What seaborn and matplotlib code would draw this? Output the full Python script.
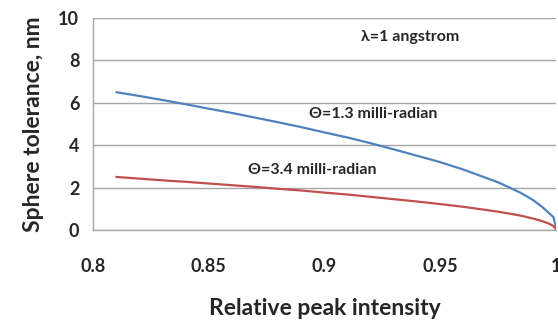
import pandas as pd
import seaborn as sns
import matplotlib.pyplot as plt

# relative peak intensity (x) and sphere tolerance in nm (y)
intensity = [0.81, 0.82, 0.83, 0.84, 0.85, 0.86, 0.87, 0.88, 0.89, 0.90, 0.91, 0.92, 0.93, 0.94,
             0.95, 0.96, 0.97, 0.975, 0.98, 0.985, 0.99, 0.994, 0.997, 0.999, 1.0]
tol_13 = [6.5, 6.32, 6.13, 5.93, 5.72, 5.52, 5.3, 5.08, 4.85, 4.6, 4.36, 4.09, 3.8, 3.5,
          3.2, 2.85, 2.45, 2.25, 2.0, 1.74, 1.42, 1.1, 0.8, 0.6, 0.15]
tol_34 = [2.5, 2.42, 2.34, 2.27, 2.19, 2.11, 2.03, 1.94, 1.86, 1.76, 1.67, 1.56, 1.45, 1.34,
          1.22, 1.09, 0.94, 0.86, 0.77, 0.67, 0.54, 0.42, 0.3, 0.18, 0.05]

x_ticks = [0.8, 0.85, 0.9, 0.95, 1.0]
x_labels = ["0.8", "0.85", "0.9", "0.95", "1"]
y_ticks = [0, 2, 4, 6, 8, 10]

df = pd.concat([
    pd.DataFrame({"x": intensity, "y": tol_13, "series": "1.3"}),
    pd.DataFrame({"x": intensity, "y": tol_34, "series": "3.4"}),
])

sns.set_style("white")
plt.rcParams["font.family"] = ["Lato", "DejaVu Sans"]

fig = plt.figure(figsize=(5.58, 3.22), dpi=100)
ax = fig.add_axes([0.167, 0.286, 0.829, 0.658])

sns.lineplot(data=df, x="x", y="y", hue="series", palette={"1.3": "#4F81BD", "3.4": "#C0504D"},
             estimator=None, sort=False, linewidth=1.6, legend=False, ax=ax)

ax.set_xlim(0.8, 1.0)
ax.set_ylim(0, 10)
ax.set_xticks(x_ticks)
ax.set_xticklabels(x_labels)
ax.set_yticks(y_ticks)
ax.yaxis.grid(True, color="#A6A6A6", linewidth=1)
ax.xaxis.grid(False)
for s in ["top", "right"]:
    ax.spines[s].set_visible(False)
for s in ["left", "bottom"]:
    ax.spines[s].set_color("#A6A6A6")
    ax.spines[s].set_linewidth(1)
ax.tick_params(axis="both", direction="out", length=5, color="#A6A6A6", width=1,
               labelsize=13, pad=5)
ax.tick_params(axis="x", pad=15)
for lab in ax.get_xticklabels() + ax.get_yticklabels():
    lab.set_fontweight("bold")

ax.set_xlabel("Relative peak intensity", fontsize=16.5, fontweight="bold", labelpad=17)
ax.set_ylabel("Sphere tolerance, nm", fontsize=16.5, fontweight="bold", labelpad=10)

ax.text(0.937, 9.1, "λ=1 angstrom", fontsize=11.5, fontweight="bold", ha="center", va="center")
ax.text(0.921, 5.45, "Θ=1.3 milli-radian", fontsize=11.5, fontweight="bold", ha="center", va="center")
ax.text(0.8945, 2.85, "Θ=3.4 milli-radian", fontsize=11.5, fontweight="bold", ha="center", va="center")

fig.savefig("out.png", dpi=100)
